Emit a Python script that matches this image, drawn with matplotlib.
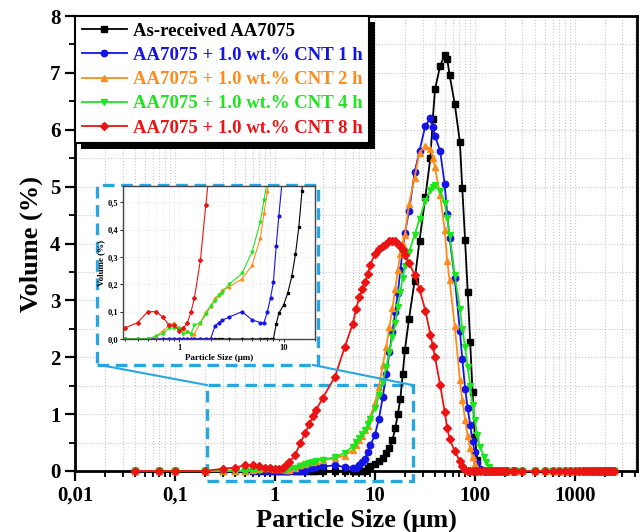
import matplotlib
matplotlib.use('Agg')
import matplotlib.pyplot as plt
from matplotlib.patches import Rectangle
from matplotlib.lines import Line2D
from matplotlib.ticker import FuncFormatter, LogLocator, MultipleLocator, NullFormatter

plt.rcParams['font.family'] = ['Liberation Serif', 'DejaVu Serif']
plt.rcParams['font.weight'] = 'bold'
plt.rcParams['axes.labelweight'] = 'bold'

# --- DATA (laser diffraction size classes, um) ---
size_um = [0.04, 0.07, 0.1, 0.2, 0.3, 0.4, 0.5, 0.6, 0.7, 0.8,
           0.9, 1.0, 1.1, 1.2, 1.3, 1.4, 1.6, 1.8, 2.0, 2.2,
           2.4, 2.6, 3.0, 4.0, 5.0, 6.0, 6.5, 7.0, 7.5, 8.0,
           8.5, 9.0, 10, 11, 12, 13, 14, 15, 16, 17,
           18, 19, 20, 22, 25, 28, 32, 36, 38, 40,
           45, 50, 53, 56, 63, 71, 75, 80, 85, 90,
           95, 100, 106, 112, 125, 130, 140, 145, 150, 160,
           170, 180, 190, 200, 212, 242, 250, 300, 400, 500,
           600, 700, 800, 900, 1000, 1100, 1200, 1300, 1400, 1500,
           1600, 1700, 1800, 1900, 2000, 2100, 2200, 2300, 2400, 2500]

as_received = [0, 0, 0, 0, 0, 0, 0, 0, 0, 0,
               0, 0, 0, 0, 0, 0, 0, 0, 0, 0,
               0, 0, 0, 0, 0, 0, 0, 0, 0, 0,
               0.055, 0.094, 0.124, 0.17, 0.23, 0.31, 0.41, 0.54, 0.75, 1.0,
               1.27, 1.70, 2.13, 2.68, 3.34, 4.05, 4.81, 5.51, 6.19, 6.71,
               7.12, 7.32, 7.24, 6.96, 6.46, 5.78, 4.97, 4.06, 3.15, 2.27,
               1.39, 0.60, 0.20, 0.02, 0, 0, 0, 0, 0, 0,
               0, 0, 0, 0, 0, 0, 0, 0, 0, 0,
               0, 0, 0, 0, 0, 0, 0, 0, 0, 0,
               0, 0, 0, 0, 0, 0, 0, 0, 0, 0]

cnt_1h = [0, 0, 0, 0, 0, 0, 0, 0, 0, 0,
          0, 0, 0, 0, 0, 0, 0, 0, 0, 0.047,
          0.06, 0.069, 0.08, 0.10, 0.07, 0.06, 0.06, 0.10, 0.15, 0.21,
          0.34, 0.45, 0.63, 0.92, 1.30, 1.70, 2.09, 2.44, 2.80, 3.13,
          3.53, 3.90, 4.18, 4.58, 5.25, 5.63, 6.07, 6.20, 6.04, 5.89,
          5.63, 5.04, 4.51, 4.10, 3.39, 2.47, 1.97, 1.45, 1.10, 0.81,
          0.52, 0.33, 0.14, 0.03, 0, 0, 0, 0, 0, 0,
          0, 0, 0, 0, 0, 0, 0, 0, 0, 0,
          0, 0, 0, 0, 0, 0, 0, 0, 0, 0,
          0, 0, 0, 0, 0, 0, 0, 0, 0, 0]

cnt_2h = [0, 0, 0, 0, 0, 0, 0, 0.01, 0.03, 0.05,
          0.06, 0.04, 0.035, 0.03, 0.02, 0.02, 0.06, 0.10, 0.12, 0.15,
          0.16, 0.18, 0.19, 0.22, 0.27, 0.37, 0.46, 0.54, 0.62, 0.72,
          0.80, 0.95, 1.19, 1.48, 1.86, 2.18, 2.53, 2.87, 3.20, 3.53,
          3.82, 4.00, 4.15, 4.70, 5.16, 5.60, 5.72, 5.66, 5.51, 5.34,
          4.85, 4.24, 3.70, 3.35, 2.55, 1.60, 1.25, 0.90, 0.62, 0.40,
          0.25, 0.12, 0.03, 0, 0, 0, 0, 0, 0, 0,
          0, 0, 0, 0, 0, 0, 0, 0, 0, 0,
          0, 0, 0, 0, 0, 0, 0, 0, 0, 0,
          0, 0, 0, 0, 0, 0, 0, 0, 0, 0]

cnt_4h = [0, 0, 0, 0, 0, 0, 0, 0.01, 0.02, 0.04,
          0.04, 0.04, 0.02, 0.025, 0.02, 0.05, 0.06, 0.09, 0.12, 0.14,
          0.16, 0.17, 0.20, 0.24, 0.32, 0.43, 0.51, 0.58, 0.65, 0.72,
          0.82, 0.92, 1.10, 1.33, 1.57, 1.83, 2.10, 2.35, 2.60, 2.88,
          3.15, 3.40, 3.60, 3.85, 4.15, 4.43, 4.75, 4.94, 5.00, 5.02,
          4.93, 4.72, 4.45, 4.15, 3.45, 2.85, 2.50, 2.18, 1.83, 1.50,
          1.16, 0.89, 0.63, 0.43, 0.25, 0.15, 0.07, 0.02, 0, 0,
          0, 0, 0, 0, 0, 0, 0, 0, 0, 0,
          0, 0, 0, 0, 0, 0, 0, 0, 0, 0,
          0, 0, 0, 0, 0, 0, 0, 0, 0, 0]

cnt_8h = [0, 0, 0, 0, 0.04, 0.06, 0.10, 0.10, 0.08, 0.05,
          0.05, 0.03, 0.04, 0.06, 0.10, 0.15, 0.29, 0.49, 0.66, 0.82,
          0.96, 1.08, 1.28, 1.66, 2.18, 2.58, 2.85, 3.06, 3.20, 3.32,
          3.47, 3.62, 3.82, 3.90, 3.96, 4.00, 4.04, 4.05, 4.04, 4.00,
          3.95, 3.88, 3.80, 3.66, 3.45, 3.20, 2.82, 2.40, 2.20, 2.00,
          1.52, 1.04, 0.76, 0.56, 0.35, 0.17, 0.09, 0.02, 0, 0,
          0, 0, 0, 0, 0, 0, 0, 0, 0, 0,
          0, 0, 0, 0, 0, 0, 0, 0, 0, 0,
          0, 0, 0, 0, 0, 0, 0, 0, 0, 0,
          0, 0, 0, 0, 0, 0, 0, 0, 0, 0]

labels = ['As-received AA7075',
          'AA7075 + 1.0 wt.% CNT 1 h',
          'AA7075 + 1.0 wt.% CNT 2 h',
          'AA7075 + 1.0 wt.% CNT 4 h',
          'AA7075 + 1.0 wt.% CNT 8 h']
series = [as_received, cnt_1h, cnt_2h, cnt_4h, cnt_8h]
colors = ['#000000', '#1414e6', '#ff8c1a', '#1ee61e', '#eb1414']
markers = ['s', 'o', '^', 'v', 'D']
msizes = [4.2, 4.6, 4.8, 4.8, 4.0]

BOX_BLUE = '#29a6df'


def comma_fmt(v, pos):
    return ('%g' % v).replace('.', ',')


fig = plt.figure(figsize=(6.41, 5.32), dpi=100)
ax = fig.add_axes([75 / 641, 1 - 471 / 532, 562 / 641, 455 / 532])

for y, c, m, ms, lab in zip(series, colors, markers, msizes, labels):
    ax.plot(size_um, y, color=c, marker=m, ms=ms, lw=1.3, label=lab,
            clip_on=False, zorder=3)

ax.set_xscale('log')
ax.set_xlim(0.01, 4200)
ax.set_ylim(0, 8)
ax.xaxis.set_major_locator(LogLocator(base=10, numticks=12))
ax.xaxis.set_minor_locator(LogLocator(base=10, subs=range(2, 10), numticks=40))
ax.xaxis.set_major_formatter(FuncFormatter(comma_fmt))
ax.xaxis.set_minor_formatter(NullFormatter())
ax.yaxis.set_major_locator(MultipleLocator(1))
ax.yaxis.set_minor_locator(MultipleLocator(0.5))
ax.tick_params(which='major', direction='out', length=7, width=1.6, labelsize=15)
ax.tick_params(which='minor', direction='out', length=4, width=1.3)
for s in ax.spines.values():
    s.set_linewidth(2)
ax.grid(True, which='both', ls=':', color='#c8c8c8', lw=0.8)
ax.set_axisbelow(True)
ax.set_xlabel('Particle Size (μm)', fontsize=19, labelpad=2)
ax.set_ylabel('Volume (%)', fontsize=19, labelpad=5)

leg = ax.legend(loc='upper left', borderaxespad=0, fancybox=False,
                edgecolor='k', framealpha=1, numpoints=1,
                labelspacing=0.38, handlelength=2.4, handletextpad=0.35,
                borderpad=0.35, prop={'weight': 'bold', 'size': 13.5})
leg.get_frame().set_linewidth(1.5)
for t, c in zip(leg.get_texts(), colors):
    t.set_color(c)

# zoom box on the main plot
ax.add_patch(Rectangle((0.21, -0.17), 24 - 0.21, 1.68, fill=False,
                       ec=BOX_BLUE, lw=2.4, ls=(0, (3.5, 2)),
                       clip_on=False, zorder=2.5))

# inset frame (white, dashed) in figure pixels
fx0, fx1, fy0, fy1 = 97, 318, 185, 365
ax.add_artist(Rectangle((fx0 / 641, 1 - fy1 / 532), (fx1 - fx0) / 641,
                        (fy1 - fy0) / 532, transform=fig.transFigure,
                        fc='white', ec=BOX_BLUE, lw=2.4, ls=(0, (3.5, 2)),
                        clip_on=False, zorder=6))

# inset
axin = fig.add_axes([123 / 641, 1 - 339 / 532, 192 / 641, 153 / 532])
for y, c, m in zip(series, colors, markers):
    axin.plot(size_um, y, color=c, marker=m, ms=2.0, lw=0.8)
axin.set_xscale('log')
axin.set_xlim(0.29, 20)
axin.set_ylim(0, 0.56)
axin.yaxis.set_major_locator(MultipleLocator(0.1))
axin.yaxis.set_major_formatter(FuncFormatter(lambda v, p: ('%.1f' % v).replace('.', ',')))
axin.xaxis.set_major_locator(LogLocator(base=10, numticks=5))
axin.xaxis.set_minor_locator(LogLocator(base=10, subs=range(2, 10), numticks=20))
axin.xaxis.set_major_formatter(FuncFormatter(comma_fmt))
axin.xaxis.set_minor_formatter(NullFormatter())
axin.tick_params(which='both', direction='out', length=2, width=0.6, labelsize=6, pad=1.5)
axin.tick_params(which='minor', length=1.2)
for s in axin.spines.values():
    s.set_linewidth(1.0)
    s.set_color('#444444')
axin.grid(True, which='both', ls=':', color='#dddddd', lw=0.5)
axin.set_axisbelow(True)
axin.set_xlabel('Particle Size (μm)', fontsize=6.5, labelpad=1.5)
axin.set_ylabel('Volume (%)', fontsize=6.5, labelpad=1.5)

# connector lines from the inset frame to the zoom box
fig.canvas.draw()
inv = fig.transFigure.inverted()
for fx, dx in [(fx0 + 3, 0.21), (fx1 - 5, 24)]:
    p0 = inv.transform((fx, 532 - fy1))
    p1 = inv.transform(ax.transData.transform((dx, 1.51)))
    fig.add_artist(Line2D([p0[0], p1[0]], [p0[1], p1[1]], color=BOX_BLUE,
                          lw=1.5, transform=fig.transFigure))

# legend shadow
bb = leg.get_window_extent()
ax.add_artist(Rectangle((bb.x0 + 6, bb.y0 - 6), bb.width, bb.height,
                        transform=None, fc='k', ec='none', zorder=4.9,
                        clip_on=False))

fig.savefig('out.png', dpi=100)
